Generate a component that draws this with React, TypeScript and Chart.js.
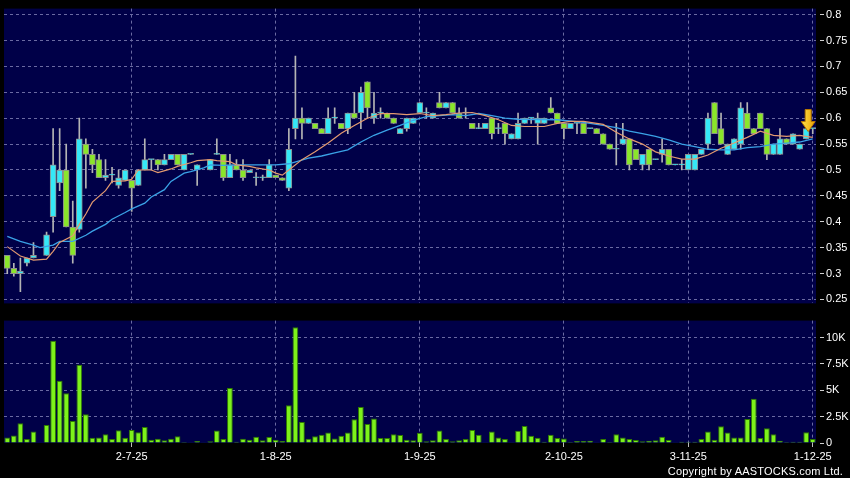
import React, { useEffect, useRef } from "react";
import { Chart, registerables } from "chart.js";

Chart.register(...registerables);

// ---- axis / category data ----
const tickIndex = [19, 41, 63, 85, 104, 123];
const tickLabels = ["2-7-25", "1-8-25", "1-9-25", "2-10-25", "3-11-25", "1-12-25"];
const priceTicks = [0.25, 0.3, 0.35, 0.4, 0.45, 0.5, 0.55, 0.6, 0.65, 0.7, 0.75, 0.8];
const volumeTicks = [0, 2500, 5000, 7500, 10000];
const volumeTickLabels = ["0", "2.5K", "5K", "7.5K", "10K"];
const arrowIndex = 122;

// ---- OHLC (null = no trade) ----
const openP = [
  0.335, 0.31, 0.3, 0.32, 0.33, null, 0.335, 0.41, 0.475, 0.5,
  0.39, 0.385, 0.55, 0.53, 0.52, 0.485, 0.49, 0.47, 0.48, 0.48,
  0.47, 0.5, 0.52, 0.52, 0.51, 0.52, 0.53, 0.5, 0.53, 0.5,
  null, 0.5, 0.53, 0.53, 0.485, 0.51, 0.5, 0.495, 0.485, 0.485,
  0.485, 0.49, 0.485, 0.465, 0.58, 0.6, 0.59, 0.59, 0.58, 0.57,
  0.6, 0.59, 0.58, 0.61, 0.61, 0.67, 0.6, 0.61, 0.61, 0.6,
  0.57, 0.58, 0.59, 0.61, 0.61, 0.6, 0.63, 0.62, 0.63, 0.61,
  0.61, 0.59, 0.58, 0.58, 0.6, 0.58, 0.59, 0.56, 0.56, 0.59,
  0.6, 0.59, 0.59, 0.62, 0.61, 0.59, 0.58, 0.59, 0.59, 0.58,
  0.58, 0.57, 0.55, 0.54, 0.55, 0.56, 0.54, 0.51, 0.54, 0.52,
  0.53, 0.54, 0.51, 0.51, 0.5, 0.5, 0.53, 0.55, 0.63, 0.58,
  0.53, 0.54, 0.55, 0.61, 0.58, 0.61, 0.58, 0.53, 0.53, 0.56,
  0.55, 0.54, 0.56, 0.58,
];
const highP = [
  0.335, 0.32, 0.33, 0.33, 0.36, null, 0.38, 0.58, 0.58, 0.55,
  0.44, 0.6, 0.56, 0.54, 0.53, 0.52, 0.505, 0.5, 0.5, 0.48,
  0.5, 0.56, 0.52, 0.52, 0.53, 0.53, 0.53, 0.53, 0.53, 0.51,
  null, 0.52, 0.56, 0.53, 0.53, 0.52, 0.52, 0.5, 0.495, 0.49,
  0.52, 0.49, 0.485, 0.58, 0.72, 0.62, 0.6, 0.59, 0.58, 0.62,
  0.62, 0.59, 0.61, 0.65, 0.66, 0.67, 0.65, 0.62, 0.61, 0.6,
  0.58, 0.6, 0.6, 0.63, 0.62, 0.61, 0.65, 0.63, 0.63, 0.62,
  0.62, 0.59, 0.59, 0.59, 0.6, 0.59, 0.59, 0.57, 0.61, 0.6,
  0.6, 0.61, 0.6, 0.64, 0.61, 0.59, 0.59, 0.59, 0.59, 0.58,
  0.58, 0.57, 0.55, 0.59, 0.59, 0.56, 0.54, 0.53, 0.54, 0.52,
  0.56, 0.54, 0.51, 0.52, 0.53, 0.53, 0.54, 0.61, 0.63, 0.61,
  0.55, 0.56, 0.63, 0.63, 0.58, 0.61, 0.58, 0.55, 0.58, 0.56,
  0.57, 0.55, 0.58, 0.58,
];
const lowP = [
  0.3, 0.295, 0.265, 0.315, 0.33, null, 0.335, 0.38, 0.46, 0.39,
  0.32, 0.38, 0.465, 0.495, 0.485, 0.48, 0.475, 0.465, 0.48, 0.42,
  0.47, 0.5, 0.5, 0.5, 0.51, 0.52, 0.51, 0.5, 0.53, 0.47,
  null, 0.5, 0.53, 0.48, 0.485, 0.5, 0.48, 0.495, 0.47, 0.48,
  0.485, 0.485, 0.48, 0.46, 0.56, 0.56, 0.59, 0.58, 0.57, 0.57,
  0.59, 0.58, 0.57, 0.6, 0.58, 0.6, 0.59, 0.6, 0.6, 0.59,
  0.57, 0.575, 0.59, 0.61, 0.6, 0.6, 0.62, 0.62, 0.61, 0.6,
  0.6, 0.58, 0.58, 0.58, 0.56, 0.57, 0.55, 0.56, 0.56, 0.59,
  0.59, 0.55, 0.59, 0.61, 0.59, 0.56, 0.58, 0.57, 0.57, 0.58,
  0.57, 0.55, 0.54, 0.51, 0.55, 0.5, 0.52, 0.5, 0.5, 0.52,
  0.515, 0.51, 0.51, 0.5, 0.5, 0.5, 0.53, 0.54, 0.57, 0.55,
  0.53, 0.54, 0.54, 0.58, 0.57, 0.58, 0.52, 0.53, 0.53, 0.55,
  0.55, 0.54, 0.56, 0.57,
];
const closeP = [
  0.31, 0.3, 0.305, 0.33, 0.335, null, 0.375, 0.51, 0.5, 0.39,
  0.335, 0.56, 0.53, 0.51, 0.485, 0.49, 0.49, 0.485, 0.5, 0.465,
  0.5, 0.52, 0.52, 0.51, 0.52, 0.53, 0.51, 0.53, 0.53, 0.51,
  null, 0.52, 0.53, 0.485, 0.51, 0.5, 0.485, 0.5, 0.485, 0.485,
  0.51, 0.485, 0.48, 0.54, 0.6, 0.59, 0.6, 0.58, 0.57, 0.6,
  0.6, 0.58, 0.61, 0.6, 0.65, 0.62, 0.61, 0.61, 0.6, 0.59,
  0.58, 0.6, 0.6, 0.63, 0.61, 0.61, 0.62, 0.63, 0.61, 0.6,
  0.61, 0.58, 0.58, 0.59, 0.57, 0.58, 0.57, 0.57, 0.59, 0.6,
  0.6, 0.6, 0.6, 0.61, 0.59, 0.58, 0.59, 0.59, 0.57, 0.58,
  0.57, 0.55, 0.54, 0.54, 0.56, 0.51, 0.52, 0.53, 0.51, 0.52,
  0.54, 0.51, 0.51, 0.51, 0.53, 0.53, 0.54, 0.6, 0.57, 0.55,
  0.55, 0.56, 0.62, 0.58, 0.57, 0.58, 0.53, 0.55, 0.56, 0.55,
  0.57, 0.55, 0.58, 0.58,
];

// ---- volume (shares) ----
const volume = [
  530, 710, 1860, 370, 1090, 0, 1710, 9690, 5900, 4720,
  2080, 7420, 2730, 500, 530, 840, 370, 1210, 500, 1240,
  1020, 1520, 310, 400, 250, 400, 650, 90, 30, 190,
  30, 160, 1180, 370, 5220, 120, 400, 310, 590, 250,
  560, 310, 190, 3570, 10960, 1990, 400, 650, 780, 990,
  430, 680, 990, 2240, 3420, 1800, 2330, 470, 470, 840,
  750, 310, 250, 960, 160, 250, 1180, 370, 160, 250,
  370, 1240, 780, 60, 1090, 530, 370, 30, 1150, 1610,
  680, 500, 120, 780, 470, 430, 90, 190, 190, 220,
  30, 370, 90, 840, 530, 370, 280, 160, 220, 250,
  590, 280, 30, 120, 120, 120, 370, 1090, 310, 1580,
  990, 530, 530, 2270, 4190, 470, 1400, 840, 220, 90,
  120, 120, 1020, 370,
];

// ---- moving averages: [index, value] ----
const maShort: [number, number][] = [
  [0, 0.352], [2, 0.334], [4, 0.326], [6, 0.328], [7, 0.343], [8, 0.36], [10, 0.373], [11, 0.395],
  [12, 0.415], [13, 0.438], [15, 0.46], [16, 0.478], [18, 0.479], [19, 0.482], [20, 0.5], [22, 0.5],
  [23, 0.495], [25, 0.502], [26, 0.507], [28, 0.514], [29, 0.518], [31, 0.52], [32, 0.518], [34, 0.516],
  [35, 0.51], [37, 0.507], [38, 0.504], [40, 0.5], [41, 0.494], [42, 0.49], [43, 0.5], [45, 0.52],
  [47, 0.535], [49, 0.552], [51, 0.571], [53, 0.586], [55, 0.6], [57, 0.609], [59, 0.609], [61, 0.607],
  [63, 0.609], [65, 0.605], [67, 0.607], [69, 0.61], [71, 0.611], [73, 0.605], [75, 0.597], [77, 0.586],
  [79, 0.584], [82, 0.584], [84, 0.59], [86, 0.594], [88, 0.594], [91, 0.588], [93, 0.573], [95, 0.56],
  [97, 0.55], [99, 0.535], [101, 0.527], [103, 0.521], [105, 0.521], [107, 0.529], [109, 0.542],
  [111, 0.552], [113, 0.563], [115, 0.575], [117, 0.567], [119, 0.565], [121, 0.567], [123, 0.563],
];
const maLong: [number, number][] = [
  [0, 0.372], [2, 0.362], [4, 0.355], [5, 0.35], [7, 0.355], [8, 0.362], [10, 0.362], [12, 0.374],
  [13, 0.382], [15, 0.395], [16, 0.405], [18, 0.418], [19, 0.425], [21, 0.436], [22, 0.448], [24, 0.462],
  [25, 0.478], [27, 0.494], [28, 0.497], [30, 0.504], [31, 0.51], [33, 0.509], [35, 0.51], [41, 0.51],
  [43, 0.512], [46, 0.523], [48, 0.527], [50, 0.533], [52, 0.539], [54, 0.554], [56, 0.567], [58, 0.577],
  [60, 0.586], [62, 0.596], [64, 0.603], [66, 0.605], [68, 0.607], [70, 0.605], [72, 0.609], [74, 0.605],
  [76, 0.6], [78, 0.598], [84, 0.597], [88, 0.592], [91, 0.586], [93, 0.582], [95, 0.575], [97, 0.57],
  [99, 0.565], [101, 0.558], [103, 0.55], [105, 0.545], [107, 0.54], [109, 0.539], [111, 0.539],
  [113, 0.543], [115, 0.545], [117, 0.55], [119, 0.552], [121, 0.554], [123, 0.56],
];

// ---- styling ----
const UP = "#35e8f7";
const DOWN = "#8ae62a";
const PLOT_BG = "#000048";
const GRID = "#6a6aa2";
const TEXT = "#ffffff";
const FONT = "'Liberation Sans', Arial, sans-serif";

const N = openP.length;
const labels = openP.map((_, i) => String(i));

function toSeries(pairs: [number, number][]) {
  const a: (number | null)[] = new Array(N).fill(null);
  pairs.forEach(([i, v]) => (a[i] = v));
  return a;
}

const plotBg = {
  id: "plotBg",
  beforeDraw(chart: any) {
    const { ctx, chartArea: a } = chart;
    ctx.save();
    ctx.fillStyle = PLOT_BG;
    ctx.fillRect(a.left, a.top, a.right - a.left, a.bottom - a.top);
    ctx.restore();
  },
};

const arrowPlugin = {
  id: "lastArrow",
  afterDatasetsDraw(chart: any) {
    const h = highP[arrowIndex];
    if (h == null) return;
    const x = chart.scales.x.getPixelForValue(arrowIndex) + 2;
    const tip = chart.scales.y.getPixelForValue(h) + 3;
    const ctx = chart.ctx;
    ctx.save();
    const g = ctx.createLinearGradient(x - 7, 0, x + 7, 0);
    g.addColorStop(0, "#ffe34d");
    g.addColorStop(1, "#eaa000");
    ctx.fillStyle = g;
    ctx.strokeStyle = "#b87800";
    ctx.lineWidth = 1;
    ctx.beginPath();
    ctx.moveTo(x - 3, tip - 22);
    ctx.lineTo(x + 3, tip - 22);
    ctx.lineTo(x + 3, tip - 10);
    ctx.lineTo(x + 7, tip - 10);
    ctx.lineTo(x, tip);
    ctx.lineTo(x - 7, tip - 10);
    ctx.lineTo(x - 3, tip - 10);
    ctx.closePath();
    ctx.fill();
    ctx.stroke();
    ctx.restore();
  },
};

function xAxis(showLabels: boolean, height: number) {
  return {
    type: "category" as const,
    offset: true,
    afterBuildTicks: (s: any) => {
      s.ticks = tickIndex.map((v) => ({ value: v }));
    },
    afterFit: (s: any) => {
      s.height = height;
    },
    grid: {
      offset: false,
      color: GRID,
      lineWidth: 1,
      drawTicks: showLabels,
      tickLength: 4,
      tickColor: "#bbbbbb",
    },
    border: { display: false, dash: [3, 3] },
    ticks: {
      display: showLabels,
      autoSkip: false,
      maxRotation: 0,
      color: TEXT,
      padding: 3,
      font: { family: FONT, size: 11 },
      callback: (_v: any, i: number) => tickLabels[i],
    },
  };
}

export default function App() {
  const priceRef = useRef<HTMLCanvasElement>(null);
  const volRef = useRef<HTMLCanvasElement>(null);

  useEffect(() => {
    const bodies = openP.map((o, i) => (o == null || closeP[i] == null ? null : [o, closeP[i] as number]));
    const wicks = lowP.map((l, i) => (l == null || highP[i] == null ? null : [l, highP[i] as number]));
    const bodyColors = openP.map((o, i) => ((closeP[i] ?? 0) < (o ?? 0) ? DOWN : UP));

    const price = new Chart(priceRef.current!, {
      type: "bar",
      data: {
        labels,
        datasets: [
          {
            type: "line",
            label: "MA10",
            data: toSeries(maShort),
            borderColor: "#e39a70",
            borderWidth: 1.2,
            pointRadius: 0,
            spanGaps: true,
            order: 0,
          } as any,
          {
            type: "line",
            label: "MA20",
            data: toSeries(maLong),
            borderColor: "#3aa2e6",
            borderWidth: 1.3,
            pointRadius: 0,
            spanGaps: true,
            order: 0,
          } as any,
          {
            type: "bar",
            label: "body",
            data: bodies as any,
            backgroundColor: bodyColors,
            borderColor: "#8e8e8e",
            borderWidth: 1,
            borderSkipped: false,
            barThickness: 6,
            minBarLength: 1,
            grouped: false,
            order: 1,
          } as any,
          {
            type: "bar",
            label: "wick",
            data: wicks as any,
            backgroundColor: "#b4b4b4",
            borderWidth: 0,
            barThickness: 1,
            grouped: false,
            order: 2,
          } as any,
        ],
      },
      options: {
        responsive: false,
        animation: false,
        devicePixelRatio: 1,
        layout: { padding: { left: 4, top: 6, right: 0, bottom: 6 } },
        plugins: { legend: { display: false }, tooltip: { enabled: false } },
        scales: {
          x: xAxis(false, 0) as any,
          y: {
            type: "linear",
            position: "right",
            min: 0.2424,
            max: 0.8116,
            afterBuildTicks: (s: any) => {
              s.ticks = priceTicks.map((v) => ({ value: v }));
            },
            afterFit: (s: any) => {
              s.width = 34;
            },
            grid: {
              color: GRID,
              drawTicks: true,
              tickLength: 8,
              tickColor: "#d0d0d0",
              tickBorderDash: [0, 4, 4, 4],
            },
            border: { display: false, dash: [3, 3] },
            ticks: {
              color: TEXT,
              padding: 2,
              font: { family: FONT, size: 11 },
              callback: (v: any) => String(Number(Number(v).toFixed(2))),
            },
          } as any,
        },
      },
      plugins: [plotBg, arrowPlugin],
    });

    const vol = new Chart(volRef.current!, {
      type: "bar",
      data: {
        labels,
        datasets: [
          {
            label: "Volume",
            data: volume,
            backgroundColor: "#7df21a",
            borderColor: "#2f7a00",
            borderWidth: 1,
            barPercentage: 0.88,
            categoryPercentage: 1,
          },
        ],
      },
      options: {
        responsive: false,
        animation: false,
        devicePixelRatio: 1,
        layout: { padding: { left: 4, top: 7, right: 0, bottom: 0 } },
        plugins: { legend: { display: false }, tooltip: { enabled: false } },
        scales: {
          x: xAxis(true, 35) as any,
          y: {
            type: "linear",
            position: "right",
            min: 0,
            max: 11600,
            afterBuildTicks: (s: any) => {
              s.ticks = volumeTicks.map((v) => ({ value: v }));
            },
            afterFit: (s: any) => {
              s.width = 34;
            },
            grid: {
              color: (c: any) => (c.tick && c.tick.value === 0 ? "rgba(0,0,0,0)" : GRID),
              drawTicks: true,
              tickLength: 8,
              tickColor: "#d0d0d0",
              tickBorderDash: [0, 4, 4, 4],
            },
            border: { display: false, dash: [3, 3] },
            ticks: {
              color: TEXT,
              padding: 2,
              font: { family: FONT, size: 11 },
              callback: (_v: any, i: number) => volumeTickLabels[i],
            },
          } as any,
        },
      },
      plugins: [plotBg],
    });

    return () => {
      price.destroy();
      vol.destroy();
    };
  }, []);

  return (
    <div
      style={{
        position: "fixed",
        left: 0,
        top: 0,
        width: 850,
        height: 478,
        background: "#000",
        overflow: "hidden",
      }}
    >
      <canvas ref={priceRef} width={850} height={312} style={{ position: "absolute", left: 0, top: 0 }} />
      <canvas ref={volRef} width={850} height={166} style={{ position: "absolute", left: 0, top: 312 }} />
      <div
        style={{
          position: "absolute",
          right: 7,
          top: 465,
          color: "#fff",
          font: `11px ${FONT}`,
          lineHeight: "13px",
          letterSpacing: "0.2px",
          whiteSpace: "nowrap",
        }}
      >
        Copyright by AASTOCKS.com Ltd.
      </div>
    </div>
  );
}
